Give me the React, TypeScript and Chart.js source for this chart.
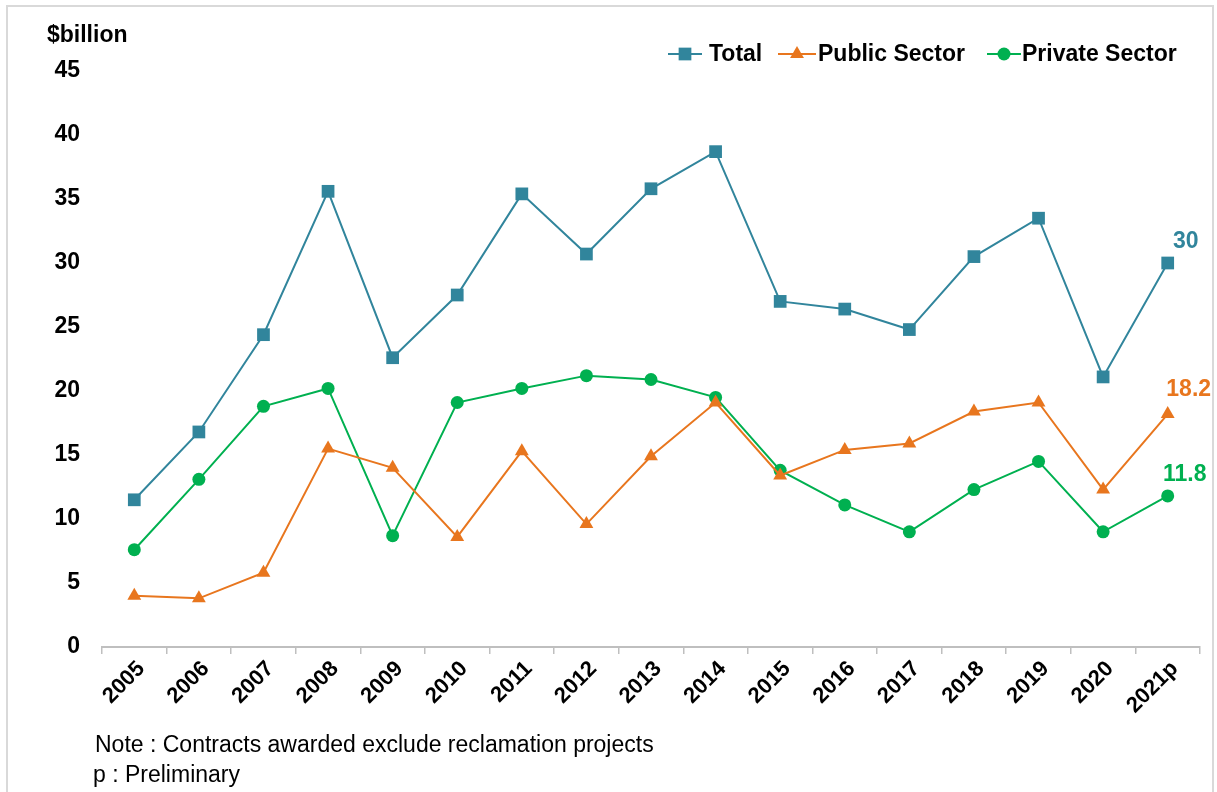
import React, { useEffect, useRef } from "react";
import { Chart, registerables } from "chart.js";

Chart.register(...registerables);

const years = ["2005","2006","2007","2008","2009","2010","2011","2012","2013","2014","2015","2016","2017","2018","2019","2020","2021p"];
const totalValues = [11.5, 16.8, 24.4, 35.6, 22.6, 27.5, 35.4, 30.7, 35.8, 38.7, 27.0, 26.4, 24.8, 30.5, 33.5, 21.1, 30];
const publicValues = [4.0, 3.8, 5.8, 15.5, 14.0, 8.6, 15.3, 9.6, 14.9, 19.1, 13.4, 15.4, 15.9, 18.4, 19.1, 12.3, 18.2];
const privateValues = [7.6, 13.1, 18.8, 20.2, 8.7, 19.1, 20.2, 21.2, 20.9, 19.5, 13.8, 11.1, 9.0, 12.3, 14.5, 9.0, 11.8];
const lastLabels = ["30", "18.2", "11.8"];
const seriesNames = ["Total", "Public Sector", "Private Sector"];
const yTicks = [0, 5, 10, 15, 20, 25, 30, 35, 40, 45];

const COLORS = ["#31859C", "#E8761E", "#00B050"];
const STYLES = ["rect", "triangle", "circle"];
const RADII = [9, 8, 6.5];
const FONT = "'Liberation Sans', Arial, sans-serif";

function drawMarker(ctx: CanvasRenderingContext2D, style: string, r: number, x: number, y: number) {
  ctx.beginPath();
  if (style === "rect") {
    const s = r * Math.SQRT1_2;
    ctx.rect(x - s, y - s, 2 * s, 2 * s);
  } else if (style === "triangle") {
    const rad = -Math.PI / 2;
    ctx.moveTo(x + Math.cos(rad) * r, y + Math.sin(rad) * r);
    ctx.lineTo(x + Math.cos(rad + 2 * Math.PI / 3) * r, y + Math.sin(rad + 2 * Math.PI / 3) * r);
    ctx.lineTo(x + Math.cos(rad - 2 * Math.PI / 3) * r, y + Math.sin(rad - 2 * Math.PI / 3) * r);
    ctx.closePath();
  } else {
    ctx.arc(x, y, r, 0, Math.PI * 2);
  }
  ctx.fill();
}

const legendPlugin = {
  id: "customLegend",
  afterDraw(chart: any) {
    const ctx = chart.ctx;
    ctx.save();
    const y = 54;
    const items = [
      { lineStart: 668, lineEnd: 702, textX: 709 },
      { lineStart: 778, lineEnd: 816, textX: 818 },
      { lineStart: 987, lineEnd: 1021, textX: 1022 },
    ];
    items.forEach((it, i) => {
      ctx.strokeStyle = COLORS[i];
      ctx.lineWidth = 2;
      ctx.beginPath();
      ctx.moveTo(it.lineStart, y);
      ctx.lineTo(it.lineEnd, y);
      ctx.stroke();
      ctx.fillStyle = COLORS[i];
      drawMarker(ctx, STYLES[i], RADII[i], (it.lineStart + it.lineEnd) / 2, y);
      ctx.fillStyle = "#000";
      ctx.font = `bold 23px ${FONT}`;
      ctx.textAlign = "left";
      ctx.textBaseline = "middle";
      ctx.fillText(seriesNames[i], it.textX, y + 1);
    });
    const offsets = [[18, -21], [21, -24], [17, -21]];
    chart.data.datasets.forEach((_ds: any, i: number) => {
      const meta = chart.getDatasetMeta(i);
      const pt = meta.data[meta.data.length - 1];
      ctx.fillStyle = COLORS[i];
      ctx.font = `bold 23px ${FONT}`;
      ctx.textAlign = "center";
      ctx.textBaseline = "middle";
      ctx.fillText(lastLabels[i], pt.x + offsets[i][0], pt.y + offsets[i][1]);
    });
    ctx.restore();
  },
};

export default function App() {
  const ref = useRef<HTMLCanvasElement>(null);
  useEffect(() => {
    document.body.style.margin = "0";
    const series = [totalValues, publicValues, privateValues];
    const chart = new Chart(ref.current!, {
      type: "line",
      data: {
        labels: years,
        datasets: series.map((vals, i) => ({
          label: seriesNames[i],
          data: vals,
          borderColor: COLORS[i],
          backgroundColor: COLORS[i],
          borderWidth: 2,
          pointStyle: STYLES[i] as any,
          pointRadius: RADII[i],
          pointBorderWidth: 0,
          pointBackgroundColor: COLORS[i],
          tension: 0,
          fill: false,
        })),
      },
      options: {
        animation: false,
        responsive: false,
        layout: { padding: { top: 71, right: 17, bottom: 0, left: 0 } },
        plugins: { legend: { display: false }, tooltip: { enabled: false } },
        scales: {
          x: {
            type: "category",
            offset: true,
            afterFit: (s: any) => { s.height = 145; },
            grid: { offset: true, drawOnChartArea: false, drawTicks: true, tickLength: 7, color: "#bfbfbf", lineWidth: 1.5 },
            border: { display: true, color: "#bfbfbf", width: 2 },
            ticks: {
              autoSkip: false,
              maxRotation: 45,
              minRotation: 45,
              color: "#000",
              padding: 2,
              labelOffset: 7,
              font: { family: FONT, weight: "bold", size: 22 },
            },
          },
          y: {
            min: 0,
            max: 45,
            afterFit: (s: any) => { s.width = 102; },
            afterBuildTicks: (s: any) => { s.ticks = yTicks.map((v) => ({ value: v })); },
            grid: { display: false },
            border: { display: false },
            ticks: {
              color: "#000",
              padding: 14,
              font: { family: FONT, weight: "bold", size: 23 },
            },
          },
        },
      },
      plugins: [legendPlugin],
    });
    return () => chart.destroy();
  }, []);

  return (
    <div style={{ position: "absolute", left: 0, top: 0, width: 1217, height: 792, background: "#fff", overflow: "hidden", fontFamily: FONT }}>
      <div style={{ position: "absolute", left: 6, top: 5, width: 1204, height: 800, border: "2px solid #d9d9d9" }} />
      <canvas ref={ref} width={1217} height={792} style={{ position: "absolute", left: 0, top: 0 }} />
      <div style={{ position: "absolute", left: 47, top: 21, fontWeight: "bold", fontSize: 23, color: "#000" }}>$billion</div>
      <div style={{ position: "absolute", left: 95, top: 731, fontSize: 23, color: "#000" }}>Note : Contracts awarded exclude reclamation projects</div>
      <div style={{ position: "absolute", left: 93, top: 761, fontSize: 23, color: "#000" }}>p : Preliminary</div>
    </div>
  );
}
